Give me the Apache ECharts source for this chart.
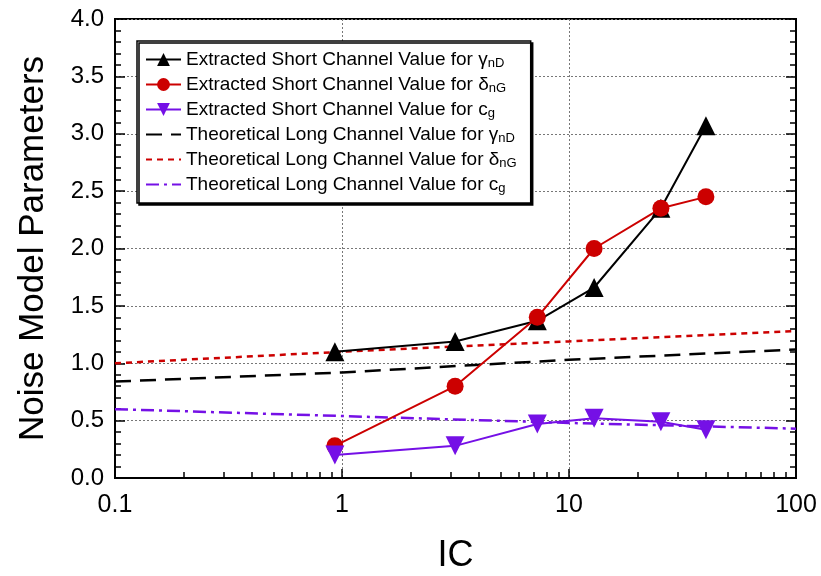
<!DOCTYPE html>
<html lang="en">
<head>
    <meta charset="UTF-8">
    <title>Noise Model Parameters</title>
    <script src="https://cdn.jsdelivr.net/npm/echarts@6.0.0/dist/echarts.min.js"></script>
    <style>
        html, body { margin: 0; padding: 0; background: #fff; }
        #chart1 { width: 821px; height: 576px; }
    </style>
</head>
<body>
<div id="chart1"></div>
<script>
    // data
    var icValues = [0.93, 3.15, 7.25, 12.9, 25.4, 40.1];
    var gammaShort = [1.10, 1.19, 1.37, 1.66, 2.35, 3.07];
    var deltaShort = [0.28, 0.80, 1.40, 2.00, 2.35, 2.45];
    var cgShort = [0.20, 0.28, 0.47, 0.52, 0.49, 0.42];

    var icLong = [0.1, 1, 10, 100];
    var gammaLong = [0.84, 0.92, 1.03, 1.12];
    var deltaLong = [1.00, 1.10, 1.19, 1.28];
    var cgLong = [0.60, 0.54, 0.48, 0.43];

    var xMinorTicks = [0.2, 0.3, 0.4, 0.5, 0.6, 0.7, 0.8, 0.9,
        2, 3, 4, 5, 6, 7, 8, 9, 20, 30, 40, 50, 60, 70, 80, 90];

    var seriesNames = [
        'Extracted Short Channel Value for γnD',
        'Extracted Short Channel Value for δnG',
        'Extracted Short Channel Value for cg',
        'Theoretical Long Channel Value for γnD',
        'Theoretical Long Channel Value for δnG',
        'Theoretical Long Channel Value for cg'
    ];
    var legendText = [
        ['Extracted Short Channel Value for ', 'γ', 'nD'],
        ['Extracted Short Channel Value for ', 'δ', 'nG'],
        ['Extracted Short Channel Value for ', 'c', 'g'],
        ['Theoretical Long Channel Value for ', 'γ', 'nD'],
        ['Theoretical Long Channel Value for ', 'δ', 'nG'],
        ['Theoretical Long Channel Value for ', 'c', 'g']
    ];

    var BLACK = '#000000', RED = '#cc0000', PURPLE = '#7510e6';
    var FONT = '"Liberation Sans", Arial, sans-serif';

    function pairs(xs, ys) {
        return xs.map(function (x, i) { return [x, ys[i]]; });
    }

    // the long channel lines have no markers, so hide the legend dot for them
    var legendData = seriesNames.map(function (n, i) {
        return i < 3 ? { name: n } : { name: n, itemStyle: { opacity: 0 } };
    });

    var ctx1 = echarts.init(document.getElementById('chart1'));

    var option = {
        animation: false,
        textStyle: { fontFamily: FONT },
        grid: {
            left: 115, right: 25, top: 19, bottom: 98,
            outerBoundsMode: 'none',
            show: true, borderColor: '#000', borderWidth: 2, backgroundColor: 'transparent'
        },
        legend: {
            orient: 'vertical',
            left: 137, top: 41,
            itemWidth: 35, itemHeight: 16, itemGap: 4,
            padding: [8, 14, 8, 8],
            backgroundColor: '#fff',
            borderColor: '#000', borderWidth: 1.5,
            shadowColor: '#000', shadowOffsetX: 2, shadowOffsetY: 2, shadowBlur: 0,
            data: legendData,
            formatter: function (name) {
                var t = legendText[seriesNames.indexOf(name)];
                return '{t|' + t[0] + '}{g|' + t[1] + '}{s|' + t[2] + '}';
            },
            textStyle: {
                rich: {
                    t: { fontSize: 19, lineHeight: 18, color: '#000', fontFamily: FONT },
                    g: { fontSize: 19, lineHeight: 18, color: '#000', fontFamily: FONT },
                    s: { fontSize: 13, lineHeight: 18, color: '#000', fontFamily: FONT, padding: [8, 0, 0, 0] }
                }
            }
        },
        xAxis: [{
            type: 'log', logBase: 10, min: 0.1, max: 100,
            name: 'IC', nameLocation: 'middle', nameGap: 60,
            nameTextStyle: { fontSize: 36, color: '#000', fontFamily: FONT },
            axisLine: { lineStyle: { color: '#000', width: 2 } },
            axisTick: { inside: true, length: 9, lineStyle: { color: '#000', width: 1.5 } },
            axisLabel: { fontSize: 25, color: '#000', margin: 15 },
            splitLine: { show: true, lineStyle: { color: '#777', type: [2, 2], width: 1 } }
        }, {
            type: 'log', logBase: 10, min: 0.1, max: 100,
            position: 'bottom',
            axisLine: { show: false },
            axisTick: { show: true, inside: true, length: 6, customValues: xMinorTicks,
                lineStyle: { color: '#000', width: 1.5 } },
            axisLabel: { show: false },
            splitLine: { show: false }
        }],
        yAxis: [{
            type: 'value', min: 0, max: 4, interval: 0.5,
            name: 'Noise Model Parameters', nameLocation: 'middle', nameGap: 64,
            nameTextStyle: { fontSize: 35, color: '#000', fontFamily: FONT },
            axisLine: { show: true, lineStyle: { color: '#000', width: 2 } },
            axisTick: { inside: true, length: 10, lineStyle: { color: '#000', width: 1.5 } },
            minorTick: { show: true, splitNumber: 5, length: 6, lineStyle: { color: '#000', width: 1.5 } },
            axisLabel: { fontSize: 24, color: '#000', margin: 11,
                formatter: function (v) { return v.toFixed(1); } },
            splitLine: { show: true, lineStyle: { color: '#777', type: [2, 2], width: 1 } }
        }, {
            type: 'value', min: 0, max: 4, interval: 0.5, position: 'right',
            axisLine: { show: true, lineStyle: { color: '#000', width: 2 } },
            axisTick: { inside: true, length: 10, lineStyle: { color: '#000', width: 1.5 } },
            minorTick: { show: true, splitNumber: 5, length: 6, lineStyle: { color: '#000', width: 1.5 } },
            axisLabel: { show: false },
            splitLine: { show: false }
        }],
        series: [{
            name: seriesNames[0], type: 'line', data: pairs(icValues, gammaShort),
            symbol: 'triangle', symbolSize: 19, color: BLACK,
            lineStyle: { color: BLACK, width: 2 }, z: 5
        }, {
            name: seriesNames[1], type: 'line', data: pairs(icValues, deltaShort),
            symbol: 'circle', symbolSize: 17, color: RED,
            lineStyle: { color: RED, width: 2 }, z: 5
        }, {
            name: seriesNames[2], type: 'line', data: pairs(icValues, cgShort),
            symbol: 'triangle', symbolRotate: 180, symbolSize: 19, color: PURPLE,
            lineStyle: { color: PURPLE, width: 2 }, z: 5
        }, {
            name: seriesNames[3], type: 'line', data: pairs(icLong, gammaLong),
            symbol: 'none', color: BLACK,
            lineStyle: { color: BLACK, width: 2.5, type: [16, 9] }
        }, {
            name: seriesNames[4], type: 'line', data: pairs(icLong, deltaLong),
            symbol: 'none', color: RED,
            lineStyle: { color: RED, width: 2.5, type: [6, 5] }
        }, {
            name: seriesNames[5], type: 'line', data: pairs(icLong, cgLong),
            symbol: 'none', color: PURPLE,
            lineStyle: { color: PURPLE, width: 2.5, type: [13, 5, 3, 5] }
        }]
    };

    ctx1.setOption(option);
</script>
</body>
</html>
